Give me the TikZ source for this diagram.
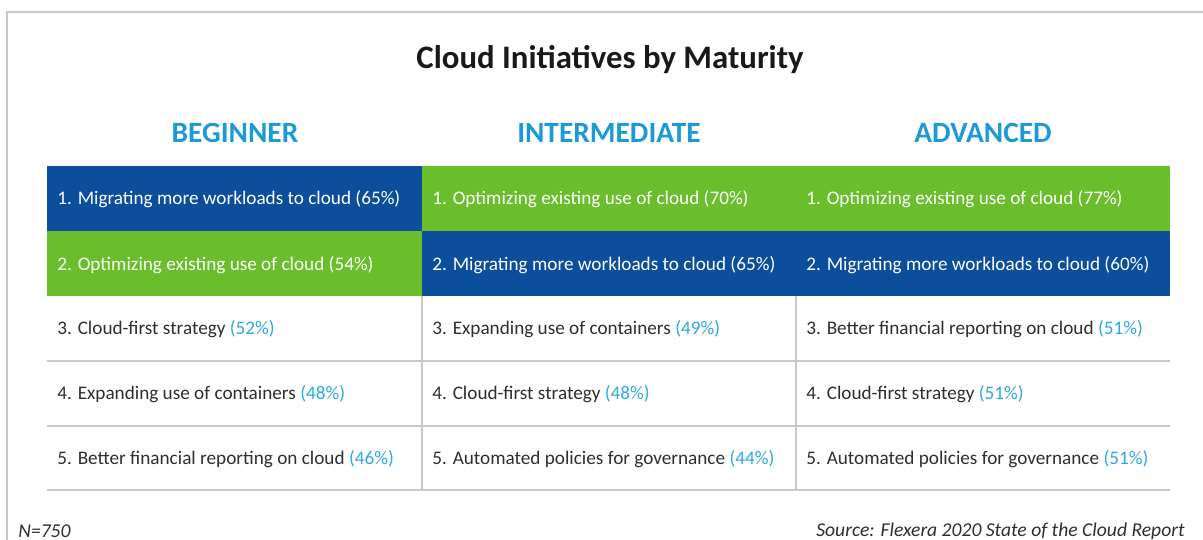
\documentclass[tikz,border=0pt]{standalone}
\usepackage{fontspec}
\setmainfont{Carlito}
\usepackage{xcolor}
\usepackage{tikz}

\definecolor{darkblue}{HTML}{0B4F9C}
\definecolor{lime}{HTML}{6ABD2B}
\definecolor{headcyan}{HTML}{1C9AD6}
\definecolor{pctcyan}{HTML}{2CA9E1}
\definecolor{framegray}{HTML}{C8C8C8}
\definecolor{inkgray}{HTML}{2E2E2E}

\tikzset{
  celltext/.style={anchor=west, inner sep=0pt, text=inkgray, font=\fontsize{9.6}{11}\selectfont},
  boxtext/.style={celltext, text=white},
  headtext/.style={inner sep=0pt, text=headcyan, font=\fontsize{14.7}{17}\selectfont\bfseries},
  foottext/.style={inner sep=0pt, text=inkgray, font=\fontsize{9.8}{11}\selectfont\itshape},
}
\newcommand{\pct}[1]{\textcolor{pctcyan}{(#1)}}

\begin{document}
\begin{tikzpicture}[x=0.5pt, y=-0.5pt]
    \useasboundingbox (0,0) rectangle (1203,540);
    % outer frame
    \draw[framegray, line width=1pt] (7,540) -- (7,12) -- (1203,12);
    % title and column heads
    \node[inner sep=0pt, text=black!90, font=\fontsize{16.4}{19}\selectfont\bfseries] (title) at (610,60) {Cloud Initiatives by Maturity};
    \node[headtext] (beginner) at (235,133) {BEGINNER};
    \node[headtext] (intermediate) at (609,133) {INTERMEDIATE};
    \node[headtext] (advanced) at (983,133) {ADVANCED};
    % coloured rows
    \fill[darkblue] (47,166) rectangle (422,231);
    \fill[lime] (422,166) rectangle (1170,231);
    \fill[lime] (47,231) rectangle (422,296);
    \fill[darkblue] (422,231) rectangle (1170,296);
    % rules of the white rows
    \draw[framegray, line width=0.6pt] (47,361) -- (1170,361);
    \draw[framegray, line width=0.6pt] (47,426) -- (1170,426);
    \draw[framegray, line width=0.9pt] (47,490) -- (1170,490);
    \draw[framegray, line width=0.6pt] (422,296) -- (422,490);
    \draw[framegray, line width=0.6pt] (796,296) -- (796,490);
    % beginner
    \node[boxtext] (b1) at (57,199) {1. Migrating more workloads to cloud (65\%)};
    \node[boxtext] (b2) at (57,265) {2. Optimizing existing use of cloud (54\%)};
    \node[celltext] (b3) at (57,329) {3. Cloud-first strategy \pct{52\%}};
    \node[celltext] (b4) at (57,394) {4. Expanding use of containers \pct{48\%}};
    \node[celltext] (b5) at (57,459) {5. Better financial reporting on cloud \pct{46\%}};
    % intermediate
    \node[boxtext] (i1) at (432,199) {1. Optimizing existing use of cloud (70\%)};
    \node[boxtext] (i2) at (432,265) {2. Migrating more workloads to cloud (65\%)};
    \node[celltext] (i3) at (432,329) {3. Expanding use of containers \pct{49\%}};
    \node[celltext] (i4) at (432,394) {4. Cloud-first strategy \pct{48\%}};
    \node[celltext] (i5) at (432,459) {5. Automated policies for governance \pct{44\%}};
    % advanced
    \node[boxtext] (a1) at (806,199) {1. Optimizing existing use of cloud (77\%)};
    \node[boxtext] (a2) at (806,265) {2. Migrating more workloads to cloud (60\%)};
    \node[celltext] (a3) at (806,329) {3. Better financial reporting on cloud \pct{51\%}};
    \node[celltext] (a4) at (806,394) {4. Cloud-first strategy \pct{51\%}};
    \node[celltext] (a5) at (806,459) {5. Automated policies for governance \pct{51\%}};
    % footer
    \node[foottext, anchor=west] (sample) at (18,531) {N=750};
    \node[foottext, anchor=east] (source) at (1185,531) {Source: Flexera 2020 State of the Cloud Report};
\end{tikzpicture}
\end{document}
